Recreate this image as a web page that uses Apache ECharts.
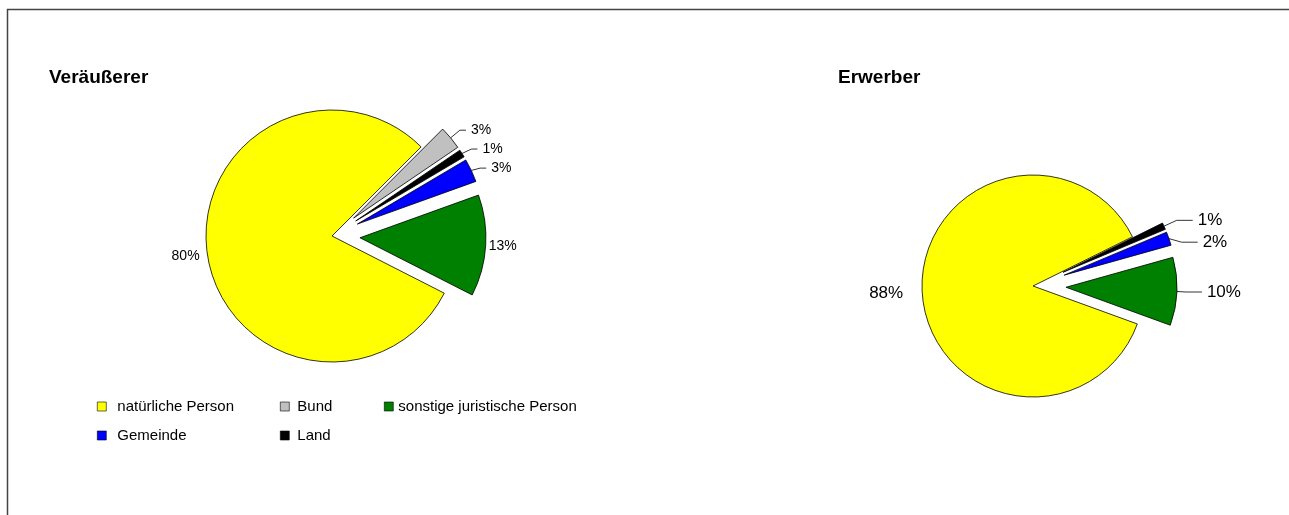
<!DOCTYPE html>
<html>
<head>
<meta charset="utf-8">
<script src="https://cdn.jsdelivr.net/npm/echarts@6/dist/echarts.min.js"></script>
<style>
  html, body { margin: 0; padding: 0; background: #fff; }
  #chart { width: 1289px; height: 515px; }
</style>
</head>
<body>
<div id="chart"></div>
<script>
// Kategorien in Reihenfolge der Tortenstücke (im Uhrzeigersinn)
const categories = ['natürliche Person', 'Bund', 'Land', 'Gemeinde', 'sonstige juristische Person'];
const colors = ['#ffff00', '#c0c0c0', '#000000', '#0000ff', '#008000'];
// Anteile in Prozent
const veraeussererValues = [80, 3, 1, 3, 13];
const erwerberValues = [88, 0, 1, 2, 10];

const FONT = '"Liberation Sans", Arial, Helvetica, sans-serif';

function buildData(values, plainDist) {
    let out = [];
    values.forEach(function (v, i) {
        if (v === 0) return;
        const small = v < 12;
        out.push({
            name: categories[i],
            value: v,
            selected: i !== 0,
            itemStyle: { color: colors[i] },
            labelLine: small ? { show: true } : { show: false, length: plainDist, length2: 0 }
        });
    });
    return out;
}

function pieSeries(name, values, center, radius, startAngle, offset, fontSize, len, len2, plainDist) {
    return {
        name: name,
        type: 'pie',
        center: center,
        radius: radius,
        startAngle: startAngle,
        clockwise: true,
        selectedMode: 'multiple',
        selectedOffset: offset,
        avoidLabelOverlap: true,
        animation: false,
        emphasis: { disabled: true },
        itemStyle: { borderColor: '#000', borderWidth: 0.8 },
        select: { itemStyle: { borderColor: '#000', borderWidth: 0.8 } },
        label: {
            show: true,
            position: 'outside',
            formatter: '{c}%',
            color: '#000',
            fontFamily: FONT,
            fontSize: fontSize
        },
        labelLine: {
            show: true,
            length: len,
            length2: len2,
            lineStyle: { color: '#000', width: 0.8 }
        },
        data: buildData(values, plainDist)
    };
}

var myChart = echarts.init(document.getElementById('chart'));
var legendBase = {
    orient: 'vertical',
    top: 399,
    padding: 0,
    itemWidth: 9,
    itemHeight: 9,
    itemGap: 14,
    icon: 'rect',
    selectedMode: false,
    itemStyle: { borderColor: '#000', borderWidth: 0.6 },
    textStyle: { fontFamily: FONT, fontSize: 15, color: '#000' }
};
var option = {
    backgroundColor: '#fff',
    animation: false,
    title: [
        { text: 'Veräußerer', left: 49, top: 68, padding: 0,
          textStyle: { fontFamily: FONT, fontSize: 19, fontWeight: 'bold', color: '#000' } },
        { text: 'Erwerber', left: 838, top: 68, padding: 0,
          textStyle: { fontFamily: FONT, fontSize: 19, fontWeight: 'bold', color: '#000' } }
    ],
    legend: [
        Object.assign({}, legendBase, { left: 97, data: ['natürliche Person', 'Gemeinde'],
            textStyle: Object.assign({}, legendBase.textStyle, { padding: [0, 0, 0, 6] }) }),
        Object.assign({}, legendBase, { left: 280, data: ['Bund', 'Land'],
            textStyle: Object.assign({}, legendBase.textStyle, { padding: [0, 0, 0, 3] }) }),
        Object.assign({}, legendBase, { left: 384, data: ['sonstige juristische Person'] })
    ],
    graphic: [
        {
            type: 'rect',
            shape: { x: 7.5, y: 9.5, width: 1300, height: 600 },
            style: { fill: 'none', stroke: '#444', lineWidth: 1.5 },
            silent: true
        }
    ],
    series: [
        pieSeries('Veräußerer', veraeussererValues, [332, 236], 126, 333, 28, 14, 12, 6, 3),
        pieSeries('Erwerber', erwerberValues, [1033, 286], 111, 340, 33, 17, 14, 16, 14)
    ]
};
myChart.setOption(option);
window.addEventListener('resize', () => {
    myChart.resize()
})
</script>
</body>
</html>
